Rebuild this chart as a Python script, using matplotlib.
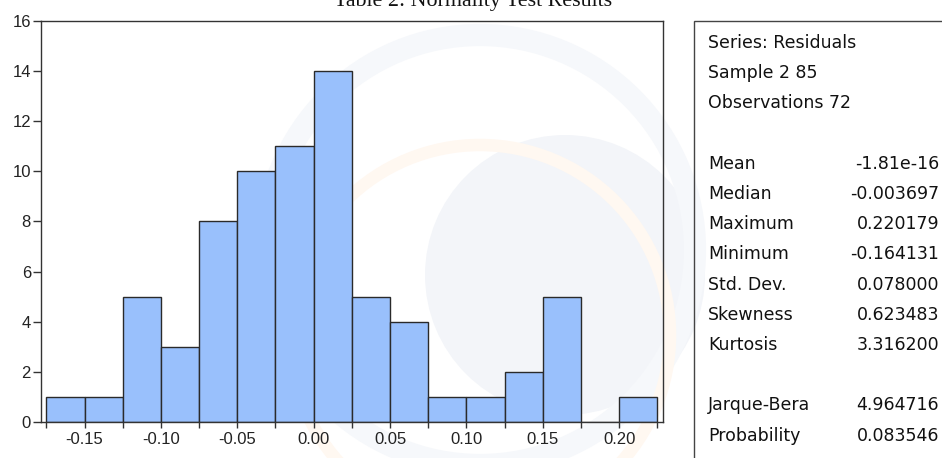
import numpy as np
import matplotlib
matplotlib.use("Agg")
import matplotlib.pyplot as plt
from matplotlib.patches import Rectangle, Circle
from matplotlib.ticker import FixedLocator, FixedFormatter

# histogram data (bins of 0.025)
bin_left = [-0.175, -0.150, -0.125, -0.100, -0.075, -0.050, -0.025, 0.000,
            0.025, 0.050, 0.075, 0.100, 0.125, 0.150, 0.175, 0.200]
counts = [1, 1, 5, 3, 8, 10, 11, 14, 5, 4, 1, 1, 2, 5, 0, 1]
bin_width = 0.025

xtick_major = [-0.15, -0.10, -0.05, 0.00, 0.05, 0.10, 0.15, 0.20]
xtick_labels = ["-0.15", "-0.10", "-0.05", "0.00", "0.05", "0.10", "0.15", "0.20"]
xtick_minor = [-0.175, -0.125, -0.075, -0.025, 0.025, 0.075, 0.125, 0.175, 0.225]
ytick_vals = [0, 2, 4, 6, 8, 10, 12, 14, 16]

header_lines = ["Series: Residuals", "Sample 2 85", "Observations 72"]
stat_names = ["Mean", "Median", "Maximum", "Minimum", "Std. Dev.", "Skewness", "Kurtosis"]
stat_values = ["-1.81e-16", "-0.003697", "0.220179", "-0.164131", "0.078000", "0.623483", "3.316200"]
test_names = ["Jarque-Bera", "Probability"]
test_values = ["4.964716", "0.083546"]

title = "Table 2: Normality Test Results"

W, H = 942, 458
plt.rcParams['font.family'] = ['Liberation Sans', 'DejaVu Sans']

fig = plt.figure(figsize=(W / 100, H / 100), dpi=100)
fig.patch.set_facecolor('white')

def px(x, y):
    return x / W, 1 - y / H

# faint watermark logo behind everything
wm = fig.add_axes([0, 0, 1, 1], zorder=0)
wm.set_xlim(0, W)
wm.set_ylim(H, 0)
wm.axis('off')
wm.add_patch(Circle((565, 275), 140, color='#f3f5f9', lw=0))
wm.add_patch(Circle((480, 250), 215, fill=False, ec='#f6f8fb', lw=16))
wm.add_patch(Circle((480, 335), 190, fill=False, ec='#fff8f1', lw=9))

# histogram axes
l, t = px(41.3, 20.7)
r, b = px(663, 422)
ax = fig.add_axes([l, b, r - l, t - b], zorder=1)
ax.patch.set_alpha(0)
ax.bar(bin_left, counts, width=bin_width, align='edge',
       color='#99c0fc', edgecolor='#2a2a2a', linewidth=1.0)

ax.set_xlim(-0.1783, 0.2287)
ax.set_ylim(0, 16)
ax.xaxis.set_major_locator(FixedLocator(xtick_major))
ax.xaxis.set_major_formatter(FixedFormatter(xtick_labels))
ax.xaxis.set_minor_locator(FixedLocator(xtick_minor))
ax.set_yticks(ytick_vals)
ax.tick_params(axis='x', which='both', direction='out', length=4.5, width=1,
               color='#333333', labelsize=12, pad=3, labelcolor='#222222')
ax.tick_params(axis='y', which='major', direction='out', length=6, width=1,
               color='#333333', labelsize=12, pad=1.5, labelcolor='#222222')
for s in ax.spines.values():
    s.set_color('#333333')
    s.set_linewidth(1.0)

# title, cut at the top edge
fig.text(*px(473, 6), title, family='Liberation Serif', fontsize=15.8,
         ha='center', va='baseline', color='#111111')

# statistics box
bx, by = px(694, 20.7)
fig.patches.append(Rectangle((bx, -0.02), 1.05 - bx, by + 0.02, transform=fig.transFigure,
                             fill=False, ec='#444444', lw=1.0, zorder=2))

sfont = dict(family=['DejaVu Sans'], fontsize=12.5, va='center', color='#111111')
row_h = 30.2
y0 = 43
for i, s in enumerate(header_lines):
    fig.text(*px(708, y0 + i * row_h), s, ha='left', **sfont)
for i, (n, v) in enumerate(zip(stat_names, stat_values)):
    yy = y0 + (4 + i) * row_h
    fig.text(*px(708, yy), n, ha='left', **sfont)
    fig.text(*px(939, yy), v, ha='right', **sfont)
for i, (n, v) in enumerate(zip(test_names, test_values)):
    yy = y0 + (12 + i) * row_h
    fig.text(*px(708, yy), n, ha='left', **sfont)
    fig.text(*px(939, yy), v, ha='right', **sfont)

fig.savefig('out.png', dpi=100)
